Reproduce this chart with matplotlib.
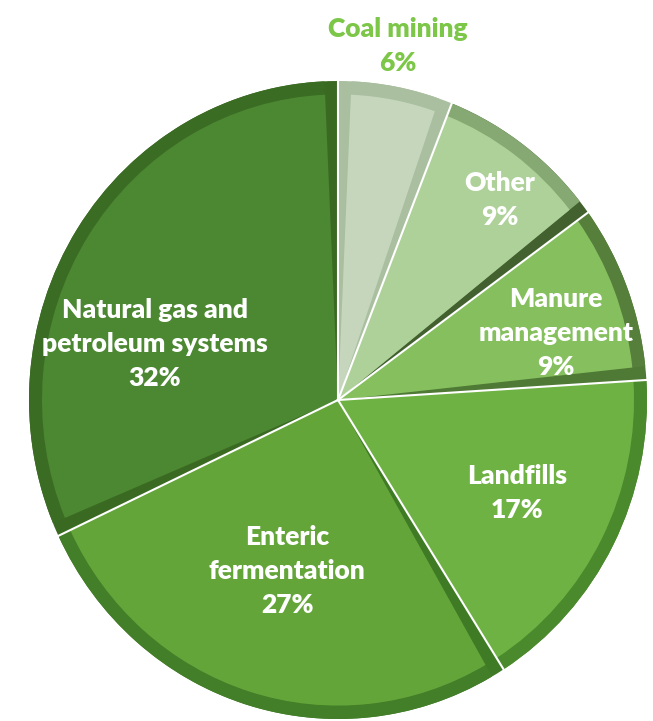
import numpy as np
import matplotlib.pyplot as plt
from matplotlib.patches import Wedge

sources = ['Coal mining', 'Other', 'Manure\nmanagement', 'Landfills',
           'Enteric\nfermentation', 'Natural gas and\npetroleum systems']
shares = [6, 9, 9, 17, 27, 32]
fill_colors = ['#c6d6bd', '#aed199', '#86c05e', '#6fb244', '#64a53a', '#4c8732']
rim_colors = ['#a9bf9f', '#86a973', '#557f3a', '#4a8a2c', '#437e28', '#3b6c24']
side_colors = ['#a9bf9f', '#42612f', '#4f7a35', '#4a8a2c', '#3f7a25', '#3a6a22']
# bevel on the radial sides: (first side, second side) going clockwise, in degrees
bevel = [(2.5, 2.5), (0, 2.5), (0, 2.5), (0, 0), (2.5, 0), (2.5, 2.5)]
# label centres (pixels from top left)
lab_x = [398, 500, 556, 517, 287, 155]
lab_y = [46, 200, 333, 493, 571, 344]

fig = plt.figure(figsize=(6.53, 7.21), dpi=100)
ax = fig.add_axes([0, 0, 1, 1])

sy = 319 / 309  # the pie is a bit taller than wide
cx, cy, r = 338, (721 - 400) / sy, 309

edges = 90 - 3.6 * np.concatenate([[0], np.cumsum(shares)])
for i in range(len(shares)):
    a0, a1 = edges[i], edges[i + 1]
    ax.add_patch(Wedge((cx, cy), r, a1, a0, color=side_colors[i], lw=0))
    ax.add_patch(Wedge((cx, cy), r, a1 + bevel[i][1], a0 - bevel[i][0],
                       color=rim_colors[i], lw=0))
    ax.add_patch(Wedge((cx, cy), r - 13, a1 + bevel[i][1], a0 - bevel[i][0],
                       color=fill_colors[i], lw=0))
    t = np.radians(a0)
    ax.plot([cx, cx + r * np.cos(t)], [cy, cy + r * np.sin(t)], color='white', lw=1.5)

ax.set_xlim(0, 653)
ax.set_ylim(0, 721 / sy)
ax.axis('off')

for i, s in enumerate(sources):
    color = '#7cc648' if i == 0 else 'white'
    ax.text(lab_x[i], (721 - lab_y[i]) / sy, s + '\n%d%%' % shares[i],
            ha='center', va='center', color=color, fontsize=19,
            fontweight='heavy', family='Lato', linespacing=1.5)

fig.savefig('out.png', dpi=100)
